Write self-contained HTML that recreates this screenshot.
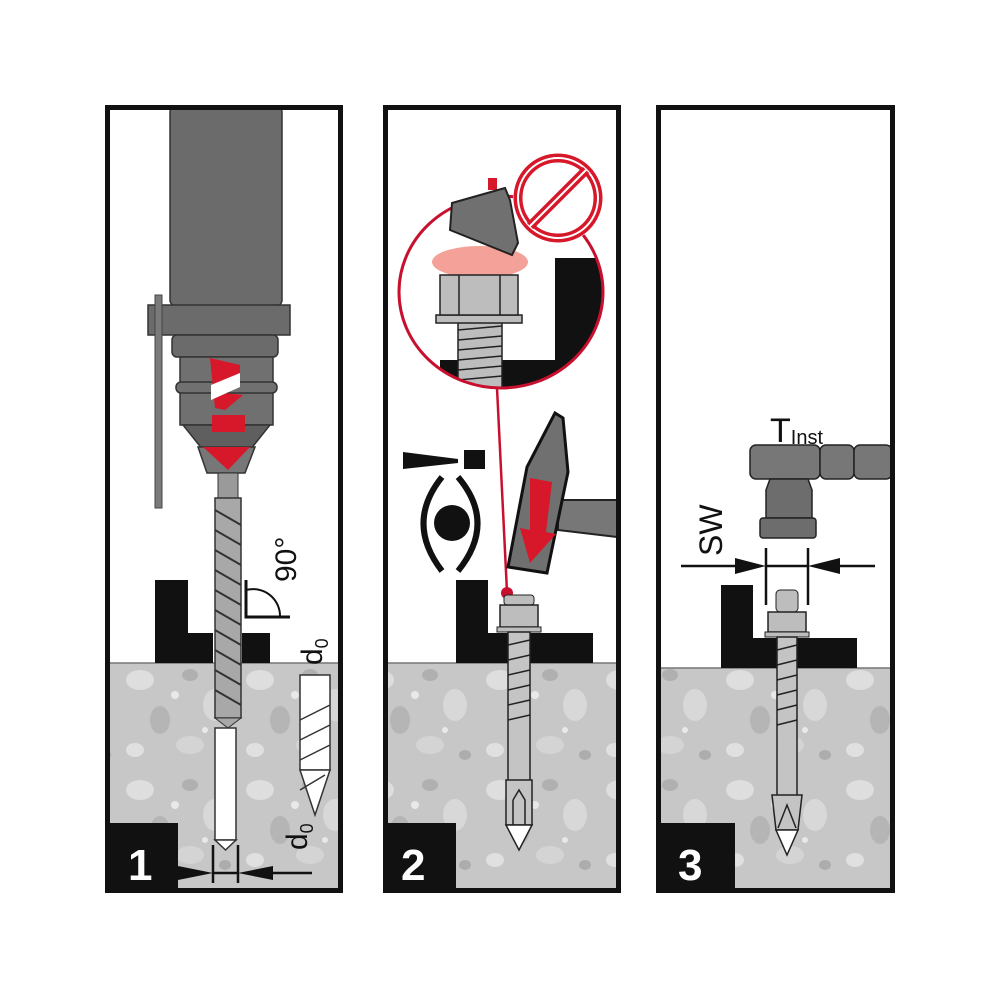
<!DOCTYPE html>
<html><head><style>body{margin:0;background:#fff}svg{display:block}</style></head>
<body>
<svg width="1000" height="1000" viewBox="0 0 1000 1000" xmlns="http://www.w3.org/2000/svg" font-family="Liberation Sans, sans-serif">
<defs>
<pattern id="conc" width="120" height="110" patternUnits="userSpaceOnUse">
<rect width="120" height="110" fill="#c7c7c7"/>
<ellipse cx="20" cy="20" rx="14" ry="10" fill="#dedede"/>
<ellipse cx="70" cy="15" rx="8" ry="6" fill="#b0b0b0"/>
<ellipse cx="95" cy="45" rx="12" ry="16" fill="#d8d8d8"/>
<ellipse cx="40" cy="60" rx="10" ry="14" fill="#b5b5b5"/>
<ellipse cx="15" cy="90" rx="9" ry="7" fill="#e0e0e0"/>
<ellipse cx="70" cy="85" rx="14" ry="9" fill="#d4d4d4"/>
<ellipse cx="105" cy="95" rx="6" ry="5" fill="#adadad"/>
<circle cx="55" cy="35" r="4" fill="#e8e8e8"/>
<circle cx="85" cy="70" r="3" fill="#e8e8e8"/>
</pattern>
</defs>
<rect width="1000" height="1000" fill="#fff"/>

<!-- concrete -->
<rect x="108" y="663" width="232" height="227" fill="url(#conc)"/>
<rect x="386" y="663" width="232" height="227" fill="url(#conc)"/>
<rect x="659" y="668" width="233" height="222" fill="url(#conc)"/>
<line x1="108" y1="663" x2="340" y2="663" stroke="#777" stroke-width="1.5"/>
<line x1="386" y1="663" x2="618" y2="663" stroke="#777" stroke-width="1.5"/>
<line x1="659" y1="668" x2="892" y2="668" stroke="#777" stroke-width="1.5"/>

<!-- ===== PANEL 1 ===== -->
<rect x="170" y="106" width="112" height="200" rx="6" fill="#6b6b6b" stroke="#333" stroke-width="1.5"/>
<rect x="148" y="305" width="142" height="30" fill="#6b6b6b" stroke="#333" stroke-width="1.5"/>
<rect x="172" y="335" width="106" height="22" rx="5" fill="#6b6b6b" stroke="#333" stroke-width="1.5"/>
<rect x="155" y="295" width="7" height="213" fill="#7a7a7a" stroke="#444"/>
<rect x="180" y="357" width="93" height="68" fill="#707070" stroke="#333" stroke-width="1.5"/>
<rect x="176" y="382" width="101" height="11" rx="5" fill="#707070" stroke="#333" stroke-width="1.5"/>
<polygon points="183,425 270,425 250,450 203,450" fill="#5f5f5f" stroke="#333" stroke-width="1.5"/>
<polygon points="198,447 255,447 245,473 207,473" fill="#777" stroke="#333" stroke-width="1.5"/>
<!-- red arrows -->
<polygon points="210,358 240,365 240,383 215,392 243,395 225,410 215,408" fill="#d6182a"/>
<polygon points="211,385 240,373 240,387 211,400" fill="#fff"/>
<polygon points="212,415 245,415 245,432 212,432" fill="#d6182a"/>
<polygon points="203,447 250,447 228,470" fill="#d6182a"/>
<!-- bit -->
<rect x="218" y="473" width="20" height="25" fill="#9a9a9a" stroke="#333"/>
<rect x="215" y="498" width="26" height="220" fill="#a8a8a8" stroke="#333" stroke-width="1.5"/>
<g stroke="#333" stroke-width="2" fill="none">
<path d="M215 510 L241 525 M215 530 L241 545 M215 550 L241 565 M215 570 L241 585 M215 590 L241 605 M215 610 L241 625 M215 630 L241 645 M215 650 L241 665 M215 670 L241 685 M215 690 L241 705"/>
</g>
<polygon points="215,718 241,718 228,728" fill="#a8a8a8" stroke="#333"/>
<!-- hole -->
<rect x="215" y="728" width="21" height="112" fill="#fff" stroke="#333" stroke-width="1.5"/>
<polygon points="215,840 236,840 225.5,850" fill="#fff" stroke="#333" stroke-width="1.5"/>
<!-- black L -->
<rect x="155" y="580" width="33" height="83" fill="#111"/>
<rect x="188" y="633" width="25" height="30" fill="#111"/>
<rect x="242" y="633" width="28" height="30" fill="#111"/>
<!-- 90 deg -->
<path d="M246 580 L246 617 L290 617" fill="none" stroke="#111" stroke-width="3"/>
<path d="M246 590 A27 27 0 0 1 280 617" fill="none" stroke="#111" stroke-width="2"/>
<text transform="translate(296 582) rotate(-90)" font-size="30" fill="#111">90°</text>
<text transform="translate(322 665) rotate(-90)" font-size="30" fill="#111">d<tspan font-size="18" dy="6">0</tspan></text>
<!-- bit image -->
<g stroke="#333" stroke-width="1.5" fill="#fff">
<rect x="300" y="675" width="30" height="95"/>
<polygon points="300,770 330,770 315,815"/>
<path d="M300 720 L330 705 M300 740 L330 725 M300 760 L330 745 M300 790 L325 775" fill="none"/>
</g>
<!-- number -->
<rect x="108" y="823" width="70" height="67" fill="#111"/>
<text x="128" y="880" font-size="44" font-weight="bold" fill="#fff">1</text>
<!-- d0 dims -->
<g stroke="#111" stroke-width="2.5">
<line x1="213" y1="845" x2="213" y2="883"/><line x1="238" y1="845" x2="238" y2="883"/>
<line x1="213" y1="873" x2="238" y2="873"/><line x1="250" y1="873" x2="312" y2="873"/>
</g>
<polygon points="178,866 213,873 178,880" fill="#111"/>
<polygon points="273,866 238,873 273,880" fill="#111"/>
<text transform="translate(307 850) rotate(-90)" font-size="30" fill="#111">d<tspan font-size="18" dy="6">0</tspan></text>
<rect x="107.5" y="107.5" width="233" height="783" fill="none" stroke="#111" stroke-width="5"/>

<!-- ===== PANEL 2 ===== -->
<!-- inset circle -->
<clipPath id="cc"><ellipse cx="501" cy="292" rx="102" ry="96"/></clipPath>
<g clip-path="url(#cc)">
<rect x="555" y="258" width="50" height="130" fill="#111"/>
<rect x="440" y="360" width="165" height="30" fill="#111"/>
<ellipse cx="480" cy="262" rx="48" ry="16" fill="#f08a80" opacity="0.8"/>
<rect x="458" y="322" width="44" height="70" fill="#bdbdbd" stroke="#222" stroke-width="1.5"/>
<path d="M458 330 L502 326 M458 340 L502 336 M458 350 L502 346 M458 360 L502 356 M458 370 L502 366 M458 380 L502 376" stroke="#222" stroke-width="1.5"/>
<rect x="436" y="315" width="86" height="8" fill="#bdbdbd" stroke="#222" stroke-width="1.5"/>
<rect x="440" y="275" width="78" height="40" fill="#bdbdbd" stroke="#222" stroke-width="1.5"/>
<line x1="459" y1="275" x2="459" y2="315" stroke="#222" stroke-width="1.5"/><line x1="500" y1="275" x2="500" y2="315" stroke="#222" stroke-width="1.5"/>
</g>
<ellipse cx="501" cy="292" rx="102" ry="96" fill="none" stroke="#c8102e" stroke-width="3"/>
<rect x="488" y="178" width="9" height="12" fill="#d6182a"/>
<polygon points="452,203 505,188 510,200 518,243 512,255 450,230" fill="#707070" stroke="#222" stroke-width="2"/>
<!-- prohibition -->
<circle cx="558" cy="198" r="45" fill="#fff"/>
<circle cx="558" cy="198" r="40" fill="none" stroke="#d6182a" stroke-width="9"/>
<circle cx="558" cy="198" r="40" fill="none" stroke="#fff" stroke-width="2"/>
<line x1="530" y1="226" x2="586" y2="170" stroke="#d6182a" stroke-width="9"/>
<line x1="530" y1="226" x2="586" y2="170" stroke="#fff" stroke-width="2"/>
<!-- red line -->
<line x1="497" y1="388" x2="507" y2="592" stroke="#c8102e" stroke-width="2.5"/>
<circle cx="507" cy="593" r="6" fill="#c8102e"/>
<!-- eye -->
<polygon points="403,452 458,459 458,463 403,469" fill="#111"/>
<rect x="464" y="450" width="21" height="19" fill="#111"/>
<circle cx="452" cy="523" r="18" fill="#111"/>
<path d="M442 477 Q405 523 442 571" fill="none" stroke="#111" stroke-width="6"/>
<path d="M458 477 Q497 523 458 571" fill="none" stroke="#111" stroke-width="6"/>
<!-- hammer -->
<polygon points="558,500 617,500 617,537 558,530" fill="#777" stroke="#222" stroke-width="2"/>
<polygon points="555,413 563,418 568,472 547,573 508,567 527,467" fill="#707070" stroke="#111" stroke-width="3"/>
<polygon points="530,478 552,482 546,532 556,534 530,563 520,528 530,530" fill="#d6182a"/>
<!-- black L -->
<rect x="456" y="580" width="32" height="83" fill="#111"/>
<rect x="488" y="633" width="105" height="30" fill="#111"/>
<!-- anchor -->
<rect x="504" y="595" width="30" height="10" rx="3" fill="#bdbdbd" stroke="#222"/>
<rect x="500" y="605" width="38" height="22" fill="#bdbdbd" stroke="#222" stroke-width="1.5"/>
<rect x="497" y="627" width="44" height="5" fill="#bdbdbd" stroke="#222"/>
<rect x="508" y="632" width="22" height="150" fill="#c4c4c4" stroke="#222" stroke-width="1.5"/>
<path d="M508 645 L530 640 M508 660 L530 655 M508 675 L530 670 M508 690 L530 685 M508 705 L530 700 M508 720 L530 715" stroke="#222" stroke-width="1.5"/>
<rect x="506" y="780" width="26" height="45" fill="#c4c4c4" stroke="#222" stroke-width="1.5"/>
<path d="M513 800 L519 790 L525 800 L525 825 M513 800 L513 825" fill="none" stroke="#222" stroke-width="1.5"/>
<polygon points="506,825 532,825 519,850" fill="#fff" stroke="#222" stroke-width="1.5"/>
<rect x="386" y="823" width="70" height="67" fill="#111"/>
<text x="401" y="880" font-size="44" font-weight="bold" fill="#fff">2</text>
<rect x="385.5" y="107.5" width="233" height="783" fill="none" stroke="#111" stroke-width="5"/>

<!-- ===== PANEL 3 ===== -->
<text x="770" y="442" font-size="34" fill="#111">T<tspan font-size="20" dy="2">Inst</tspan></text>
<rect x="750" y="445" width="70" height="34" rx="6" fill="#777" stroke="#222" stroke-width="1.5"/>
<rect x="820" y="445" width="34" height="34" rx="6" fill="#777" stroke="#222" stroke-width="1.5"/>
<rect x="854" y="445" width="38" height="34" rx="6" fill="#777" stroke="#222" stroke-width="1.5"/>
<polygon points="770,479 808,479 812,490 812,518 766,518 766,490" fill="#6d6d6d" stroke="#222" stroke-width="1.5"/>
<rect x="760" y="518" width="56" height="20" rx="3" fill="#6d6d6d" stroke="#222" stroke-width="1.5"/>
<text transform="translate(722 556) rotate(-90)" font-size="32" fill="#111">SW</text>
<g stroke="#111" stroke-width="2.5">
<line x1="766" y1="548" x2="766" y2="605"/><line x1="808" y1="548" x2="808" y2="605"/>
<line x1="681" y1="566" x2="740" y2="566"/><line x1="766" y1="566" x2="808" y2="566"/>
<line x1="830" y1="566" x2="875" y2="566"/>
</g>
<polygon points="735,558 766,566 735,574" fill="#111"/>
<polygon points="840,558 808,566 840,574" fill="#111"/>
<rect x="721" y="585" width="32" height="83" fill="#111"/>
<rect x="753" y="638" width="104" height="30" fill="#111"/>
<rect x="776" y="590" width="22" height="22" rx="4" fill="#bdbdbd" stroke="#222"/>
<rect x="768" y="612" width="38" height="20" fill="#bdbdbd" stroke="#222" stroke-width="1.5"/>
<rect x="765" y="632" width="44" height="5" fill="#bdbdbd" stroke="#222"/>
<rect x="777" y="637" width="20" height="160" fill="#c4c4c4" stroke="#222" stroke-width="1.5"/>
<path d="M777 650 L797 645 M777 665 L797 660 M777 680 L797 675 M777 695 L797 690 M777 710 L797 705 M777 725 L797 720" stroke="#222" stroke-width="1.5"/>
<polygon points="772,795 802,795 798,830 776,830" fill="#c4c4c4" stroke="#222" stroke-width="1.5"/>
<path d="M778 828 L787 805 L796 828" fill="none" stroke="#222" stroke-width="1.5"/>
<polygon points="776,830 798,830 787,855" fill="#fff" stroke="#222" stroke-width="1.5"/>
<rect x="659" y="823" width="76" height="67" fill="#111"/>
<text x="678" y="880" font-size="44" font-weight="bold" fill="#fff">3</text>
<rect x="658.5" y="107.5" width="234" height="783" fill="none" stroke="#111" stroke-width="5"/>
</svg>
</body></html>
